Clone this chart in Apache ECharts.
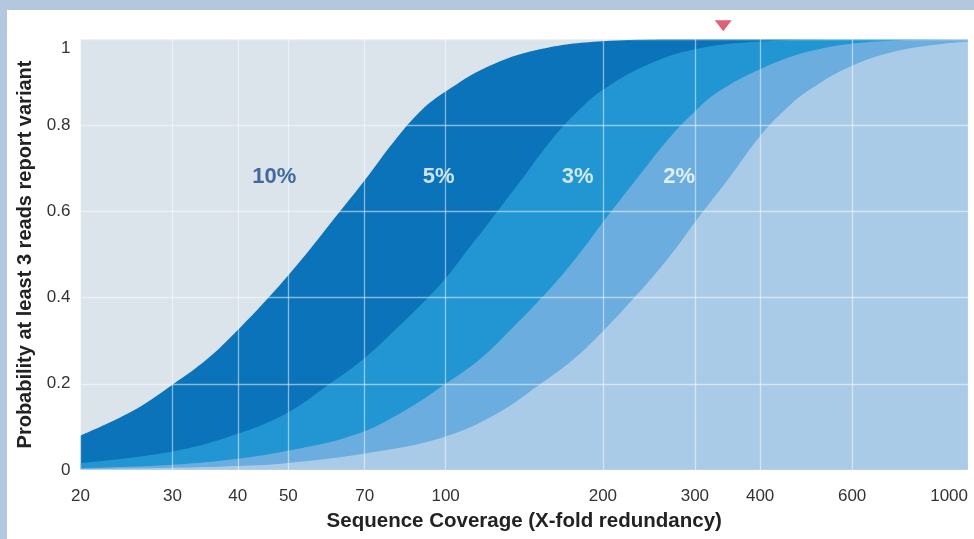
<!DOCTYPE html>
<html>
<head>
<meta charset="utf-8">
<title>Sequence coverage</title>
<script src="https://cdn.jsdelivr.net/npm/echarts@6/dist/echarts.min.js"></script>
<style>
  html, body { margin: 0; padding: 0; background: #fff; overflow: hidden; }
  #frame { width: 967px; height: 529px; border-top: 10px solid #b3c7df; border-left: 7px solid #b3c7df; background: #fff; }
  #main { width: 967px; height: 529px; }
</style>
</head>
<body>
<div id="frame"><div id="main"></div></div>
<script>
// tick labels on the (log) coverage axis
const xTicks = [20, 30, 40, 50, 70, 100, 200, 300, 400, 600, 1000];

// 10% allele frequency
const cov10 = [20, 25, 30, 35, 40, 45, 50, 55, 60, 70, 80, 90, 100, 120, 150, 200, 300, 1000];
const p10 = [0.08, 0.135, 0.198, 0.258, 0.325, 0.39, 0.452, 0.512, 0.57, 0.672, 0.765, 0.835, 0.878, 0.935, 0.975, 0.995, 1, 1];

// 5%
const cov5 = [20, 30, 40, 50, 60, 70, 80, 90, 100, 110, 120, 140, 160, 180, 200, 240, 300, 400, 600, 1000];
const p5 = [0.016, 0.043, 0.084, 0.134, 0.2, 0.26, 0.325, 0.385, 0.445, 0.51, 0.568, 0.675, 0.768, 0.835, 0.882, 0.937, 0.976, 0.994, 1, 1];

// 3%
const cov3 = [20, 30, 40, 50, 67, 83, 100, 117, 133, 150, 167, 183, 200, 233, 267, 300, 333, 400, 500, 667, 1000];
const p3 = [0.004, 0.012, 0.026, 0.045, 0.082, 0.136, 0.2, 0.26, 0.325, 0.39, 0.452, 0.512, 0.575, 0.678, 0.768, 0.832, 0.878, 0.93, 0.972, 0.994, 1];

// 2%
const cov2 = [20, 30, 40, 50, 75, 100, 125, 150, 175, 200, 225, 250, 275, 300, 350, 400, 450, 500, 600, 750, 1000];
const p2 = [0.002, 0.005, 0.009, 0.016, 0.044, 0.078, 0.13, 0.195, 0.255, 0.322, 0.388, 0.45, 0.512, 0.575, 0.68, 0.775, 0.84, 0.884, 0.938, 0.975, 0.994];

// curve labels (text, coverage, probability)
const labelText = ['10%', '5%', '3%', '2%'];
const labelCov = [47, 97, 179, 280];
const labelP = [0.68, 0.68, 0.68, 0.68];

// red marker above the plot
const markerCov = 340;
const markerP = 1.031;

const font = "'Liberation Sans', Arial, Helvetica, sans-serif";
const lg = v => Math.log10(v);
const pairs = (c, p) => c.map((v, i) => [lg(v), p[i]]);

function area (name, cov, p, color) {
  return {
    name: name,
    type: 'line',
    data: pairs(cov, p),
    smooth: 0.4,
    symbol: 'none',
    lineStyle: { width: 0 },
    areaStyle: { color: color, opacity: 1 },
    z: 2
  };
}

const chart = echarts.init(document.getElementById('main'));
chart.setOption({
  animation: false,
  textStyle: { fontFamily: font },
  grid: {
    left: 73.5,
    right: 6,
    top: 29,
    bottom: 69,
    show: true,
    backgroundColor: '#dbe3eb',
    borderWidth: 0
  },
  xAxis: {
    type: 'value',
    min: lg(20),
    max: lg(1000),
    z: 3,
    name: 'Sequence Coverage (X-fold redundancy)',
    nameLocation: 'middle',
    nameGap: 41,
    nameTextStyle: { fontSize: 20.5, fontWeight: 'bold', color: '#222', fontFamily: font },
    axisLine: { show: false },
    axisTick: { show: false, customValues: xTicks.map(lg) },
    axisLabel: {
      customValues: xTicks.map(lg),
      formatter: v => String(Math.round(Math.pow(10, v))),
      fontSize: 17,
      color: '#333',
      margin: 18,
      alignMaxLabel: 'right',
      fontFamily: font
    },
    splitLine: { show: true, lineStyle: { color: 'rgba(255,255,255,0.5)', width: 1.3 } }
  },
  yAxis: {
    type: 'value',
    min: 0,
    max: 1,
    interval: 0.2,
    z: 3,
    name: 'Probability at least 3 reads report variant',
    nameLocation: 'middle',
    nameGap: 45,
    nameTextStyle: { fontSize: 20, fontWeight: 'bold', color: '#222', fontFamily: font },
    axisLine: { show: false },
    axisTick: { show: false },
    axisLabel: {
      fontSize: 17,
      color: '#333',
      margin: 10,
      fontFamily: font,
      // the top label sits a little below its grid line in the original
      formatter: v => (v === 1 ? '{top|1}' : String(v)),
      rich: { top: { fontSize: 17, color: '#333', padding: [18, 0, 0, 0], fontFamily: font } }
    },
    splitLine: { show: true, lineStyle: { color: 'rgba(255,255,255,0.5)', width: 1.3 } }
  },
  series: [
    area('10%', cov10, p10, '#0b73ba'),
    area('5%', cov5, p5, '#2196d2'),
    area('3%', cov3, p3, '#6badde'),
    area('2%', cov2, p2, '#aacbe8'),
    {
      name: 'labels',
      type: 'scatter',
      symbolSize: 0,
      z: 5,
      data: labelText.map((t, i) => ({
        value: [lg(labelCov[i]), labelP[i]],
        label: {
          show: true,
          position: 'inside',
          formatter: t,
          fontSize: 22,
          fontWeight: 'bold',
          fontFamily: font,
          color: i === 0 ? '#1a4a8a' : '#ffffff'
        }
      }))
    },
    {
      name: 'marker',
      type: 'scatter',
      clip: false,
      z: 6,
      symbol: 'triangle',
      symbolRotate: 180,
      symbolSize: [17, 11],
      itemStyle: { color: '#d63a52' },
      data: [[lg(markerCov), markerP]]
    }
  ]
});
</script>
</body>
</html>
